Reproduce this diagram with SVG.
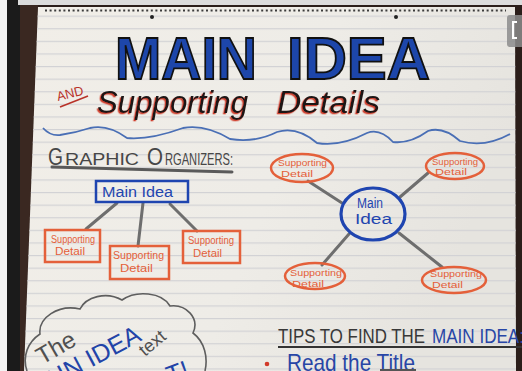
<svg xmlns="http://www.w3.org/2000/svg" width="522" height="371" viewBox="0 0 522 371">
<defs>
<linearGradient id="paper" x1="0" y1="0" x2="1" y2="0.3">
<stop offset="0" stop-color="#f1eee8"/>
<stop offset="0.6" stop-color="#eeece7"/>
<stop offset="1" stop-color="#e6e4df"/>
</linearGradient>
<pattern id="rules" x="0" y="3" width="522" height="12.6" patternUnits="userSpaceOnUse">
<rect x="0" y="0" width="522" height="1.2" fill="#d2d2d5"/>
</pattern>
<filter id="redshadow" x="-10%" y="-20%" width="120%" height="140%">
<feDropShadow dx="-1.3" dy="1.3" stdDeviation="0.3" flood-color="#d0402e" flood-opacity="1"/>
</filter>
</defs>
<style>
.hand{font-family:"Liberation Sans","DejaVu Sans",sans-serif}
.conn{stroke:#6e6e6e;stroke-width:3;stroke-linecap:round;fill:none}
.box{fill:none;stroke:#e4603a;stroke-width:2.5}
.otxt{fill:#e4603a;font-size:10px}
.osm{fill:#e4603a;font-size:9px}
.bl{fill:none;stroke:#1f45b0;stroke-width:2.5}
.btxt{fill:#1f45b0}
.head{fill:#474747}
</style>
<!-- background / frame -->
<rect x="0" y="0" width="522" height="371" fill="#2b1e1a"/>
<rect x="0" y="0" width="7" height="371" fill="#f4f4f4"/>
<rect x="7" y="0" width="13" height="371" fill="#1b1b1b"/>
<polygon points="20,5 38,5 24,371 20,371" fill="#3a2821"/>
<polygon points="38,7 515,7 516,371 24,371" fill="url(#paper)"/>
<polygon points="38,7 515,7 516,371 24,371" fill="url(#rules)"/>
<rect x="18" y="0" width="504" height="5" fill="#dcdcdc"/>
<line x1="45" y1="10.5" x2="506" y2="10.5" stroke="#3c3c3c" stroke-width="2" stroke-dasharray="2 2.6"/>
<circle cx="152" cy="17" r="2" fill="#222"/>
<circle cx="396" cy="17" r="2" fill="#222"/>
<rect x="507" y="15" width="18" height="32" rx="3" fill="#8c8c8c" opacity="0.85"/>
<path d="M517,22 h-4 v16 h4" fill="none" stroke="#fff" stroke-width="2"/>

<!-- title -->
<g id="title">
<text x="115" y="79" font-family="Liberation Sans, sans-serif" font-weight="bold" font-size="59" fill="#1d46aa" stroke="#111" stroke-width="1.8" textLength="142" lengthAdjust="spacingAndGlyphs">MAIN</text>
<text x="287" y="79" font-family="Liberation Sans, sans-serif" font-weight="bold" font-size="59" fill="#1d46aa" stroke="#111" stroke-width="1.8" textLength="143" lengthAdjust="spacingAndGlyphs">IDEA</text>
</g>
<g id="subtitle">
<text class="hand" transform="translate(58,101) rotate(-14)" font-size="13" fill="#b83228" textLength="27" lengthAdjust="spacingAndGlyphs">AND</text>
<line x1="60" y1="107" x2="88" y2="96" stroke="#b83228" stroke-width="1.6"/>
<text class="hand" x="97" y="113" font-size="32" font-style="italic" fill="#1b1414" filter="url(#redshadow)" textLength="151" lengthAdjust="spacingAndGlyphs">Supporting</text>
<text class="hand" x="277" y="113" font-size="32" font-style="italic" fill="#1b1414" filter="url(#redshadow)" textLength="103" lengthAdjust="spacingAndGlyphs">Details</text>
</g>
<path id="wave" d="M43,128 Q50,136 60,135 Q75,133 90,128 Q108,124 127,138 Q150,140 183,128 Q205,124 230,139 Q255,143 277,132 Q297,126 317,143 Q340,147 367,133 Q380,128 393,142 Q410,144 428,131 Q443,126 460,141 Q485,148 510,134" fill="none" stroke="#4a6fb5" stroke-width="1.8"/>

<g id="heading">
<text class="hand head" x="48" y="165" font-size="23" textLength="15" lengthAdjust="spacingAndGlyphs">G</text>
<text class="hand head" x="65" y="165" font-size="17" textLength="74" lengthAdjust="spacingAndGlyphs">RAPHIC</text>
<text class="hand head" x="147" y="165" font-size="23" textLength="16" lengthAdjust="spacingAndGlyphs">O</text>
<text class="hand head" x="165" y="165" font-size="17" textLength="68" lengthAdjust="spacingAndGlyphs">RGANIZERS:</text>
<line x1="52" y1="167" x2="232" y2="172" stroke="#5a5a5a" stroke-width="3" stroke-linecap="round"/>
</g>

<!-- connectors -->
<g id="connectors">
<line class="conn" x1="117" y1="203" x2="86" y2="229"/>
<line class="conn" x1="143" y1="203" x2="138" y2="246"/>
<line class="conn" x1="170" y1="204" x2="197" y2="231"/>
<line class="conn" x1="308" y1="181" x2="342" y2="203"/>
<line class="conn" x1="400" y1="197" x2="428" y2="173"/>
<line class="conn" x1="349" y1="234" x2="322" y2="265"/>
<line class="conn" x1="399" y1="233" x2="442" y2="267"/>
</g>

<!-- tree organizer -->
<g id="tree-main">
<rect x="96" y="181" width="92" height="21" class="bl"/>
<text class="hand btxt" x="102" y="197" font-size="14" textLength="71" lengthAdjust="spacingAndGlyphs">Main Idea</text>
</g>
<g id="tree-detail-1">
<rect x="45" y="230" width="55" height="32" class="box"/>
<text class="hand otxt" x="51" y="243" textLength="44" lengthAdjust="spacingAndGlyphs">Supporting</text>
<text class="hand otxt" x="55" y="255" textLength="30" lengthAdjust="spacingAndGlyphs">Detail</text>
</g>
<g id="tree-detail-2">
<rect x="110" y="246" width="59" height="33" class="box"/>
<text class="hand otxt" x="113" y="259" textLength="51" lengthAdjust="spacingAndGlyphs">Supporting</text>
<text class="hand otxt" x="120" y="272" textLength="33" lengthAdjust="spacingAndGlyphs">Detail</text>
</g>
<g id="tree-detail-3">
<rect x="183" y="231" width="57" height="32" class="box"/>
<text class="hand otxt" x="188" y="244" textLength="46" lengthAdjust="spacingAndGlyphs">Supporting</text>
<text class="hand otxt" x="193" y="257" textLength="29" lengthAdjust="spacingAndGlyphs">Detail</text>
</g>

<!-- web organizer -->
<g id="web-main">
<ellipse cx="373" cy="214" rx="32" ry="26" fill="none" stroke="#1f45b0" stroke-width="3.2"/>
<text class="hand btxt" x="357" y="208" font-size="14" textLength="26" lengthAdjust="spacingAndGlyphs">Main</text>
<text class="hand btxt" x="355" y="224" font-size="14" textLength="37" lengthAdjust="spacingAndGlyphs">Idea</text>
</g>
<g id="web-detail-1">
<ellipse cx="302" cy="168" rx="31" ry="14" class="box"/>
<text class="hand osm" x="278" y="166" textLength="49" lengthAdjust="spacingAndGlyphs">Supporting</text>
<text class="hand osm" x="281" y="177" textLength="32" lengthAdjust="spacingAndGlyphs">Detail</text>
</g>
<g id="web-detail-2">
<ellipse cx="455" cy="166" rx="29" ry="13" class="box"/>
<text class="hand osm" x="432" y="165" textLength="46" lengthAdjust="spacingAndGlyphs">Supporting</text>
<text class="hand osm" x="435" y="175" textLength="32" lengthAdjust="spacingAndGlyphs">Detail</text>
</g>
<g id="web-detail-3">
<ellipse cx="315" cy="276" rx="30" ry="13" class="box"/>
<text class="hand osm" x="290" y="276" textLength="52" lengthAdjust="spacingAndGlyphs">Supporting</text>
<text class="hand osm" x="292" y="287" textLength="32" lengthAdjust="spacingAndGlyphs">Detail</text>
</g>
<g id="web-detail-4">
<ellipse cx="454" cy="280" rx="32" ry="13" class="box"/>
<text class="hand osm" x="430" y="277" textLength="52" lengthAdjust="spacingAndGlyphs">Supporting</text>
<text class="hand osm" x="432" y="288" textLength="31" lengthAdjust="spacingAndGlyphs">Detail</text>
</g>

<!-- cloud -->
<g id="cloud">
<path d="M27,371 C22,356 28,342 40,334 C38,318 58,304 80,309 C86,297 106,291 122,300 C136,290 162,292 170,306 C186,304 200,318 193,333 C205,342 208,358 205,371" fill="none" stroke="#5e5e5e" stroke-width="1.6"/>
<text class="hand" transform="translate(42,365) rotate(-30)" font-size="24" fill="#505050">The</text>
<text class="hand" transform="translate(30,400) rotate(-28)" font-size="25" fill="#2244a8">MAIN IDEA</text>
<text class="hand" transform="translate(145,357) rotate(-40)" font-size="18" fill="#505050">text</text>
<text class="hand" transform="translate(170,384) rotate(-20)" font-size="25" fill="#2244a8">T!</text>
</g>

<!-- tips -->
<g id="tips">
<text class="hand" x="278" y="343" font-size="19.5" fill="#383838" textLength="147" lengthAdjust="spacingAndGlyphs">TIPS TO FIND THE</text>
<text class="hand" x="432" y="343" font-size="19.5" fill="#2846a6" textLength="92" lengthAdjust="spacingAndGlyphs">MAIN IDEA:</text>
<line x1="278" y1="347" x2="522" y2="347" stroke="#333" stroke-width="2"/>
<circle cx="267" cy="364" r="2.3" fill="#d23a2a"/>
<text class="hand" x="287" y="371" font-size="24" fill="#2846a6" textLength="128" lengthAdjust="spacingAndGlyphs">Read the Title</text>
<line x1="380" y1="370" x2="416" y2="370" stroke="#555" stroke-width="2"/>
</g>
</svg>
